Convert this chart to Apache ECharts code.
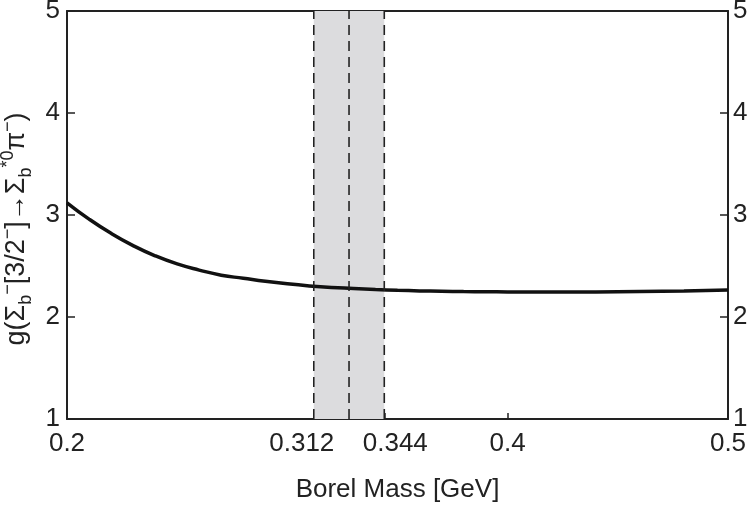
<!DOCTYPE html>
<html>
<head>
<meta charset="utf-8">
<script src="https://cdn.jsdelivr.net/npm/echarts@6/dist/echarts.min.js"></script>
<style>
html,body{margin:0;padding:0;background:#fff;}
#main{width:750px;height:505px;}
</style>
</head>
<body>
<div id="main"></div>
<script>
// Data
const borelMass = [0.20, 0.21, 0.22, 0.23, 0.24, 0.25, 0.26, 0.27, 0.28, 0.29, 0.30, 0.31, 0.32, 0.33, 0.34, 0.35, 0.36, 0.37, 0.38, 0.39, 0.40, 0.42, 0.44, 0.46, 0.48, 0.50];
const couplingG = [3.12, 2.96, 2.82, 2.70, 2.60, 2.52, 2.46, 2.41, 2.38, 2.35, 2.325, 2.305, 2.29, 2.28, 2.27, 2.262, 2.256, 2.252, 2.249, 2.247, 2.246, 2.245, 2.246, 2.250, 2.256, 2.265];
const xTickValues = [0.2, 0.312, 0.344, 0.4, 0.5];
const bandRange = [0.312, 0.344];
const bandLines = [0.312, 0.328, 0.344];
const yMin = 1, yMax = 5, yStep = 1;

const FONT = '"Liberation Sans", Arial, Helvetica, sans-serif';
const TXT = '#222';

const chart = echarts.init(document.getElementById('main'), null, {renderer: 'canvas'});

function xFmt(v) {
  if (Math.abs(v - 0.312) < 1e-9) return '{l|0.312}';
  if (Math.abs(v - 0.344) < 1e-9) return '{r|0.344}';
  return '{n|' + (Math.round(v * 1000) / 1000) + '}';
}

const labelRich = {
  n: {fontSize: 26, fontFamily: FONT, color: TXT},
  l: {fontSize: 26, fontFamily: FONT, color: TXT, padding: [0, 24, 0, 0]},
  r: {fontSize: 26, fontFamily: FONT, color: TXT, padding: [0, 0, 0, 22]}
};

const series = [];
// shaded band
series.push({
  type: 'line',
  data: [[bandRange[0], yMax], [bandRange[1], yMax]],
  showSymbol: false, symbol: 'none', silent: true,
  lineStyle: {width: 0},
  areaStyle: {color: '#dcdcde', opacity: 1, origin: 'start'},
  z: 1
});
// main curve
series.push({
  type: 'line',
  data: borelMass.map((x, i) => [x, couplingG[i]]),
  smooth: true,
  showSymbol: false, symbol: 'none',
  lineStyle: {color: '#111', width: 3.5},
  z: 3
});
// dashed lines
bandLines.forEach(v => {
  series.push({
    type: 'line',
    data: [[v, yMin], [v, yMax]],
    showSymbol: false, symbol: 'none', silent: true,
    lineStyle: {color: '#222', width: 1.6, type: [10, 6]},
    z: 4
  });
});

const option = {
  animation: false,
  backgroundColor: '#fff',
  grid: {left: 67, right: 22, top: 11, bottom: 86, containLabel: false, outerBoundsMode: 'none'},
  xAxis: [{
    type: 'value',
    min: 0.2, max: 0.5,
    position: 'bottom',
    name: 'Borel Mass [GeV]',
    nameLocation: 'middle',
    nameGap: 58,
    nameTextStyle: {fontSize: 26, fontFamily: FONT, color: TXT},
    axisLine: {show: true, onZero: false, lineStyle: {color: '#222', width: 2}},
    axisTick: {show: true, inside: true, length: 6, customValues: xTickValues, lineStyle: {color: '#222', width: 1.5}},
    axisLabel: {show: true, margin: 12, customValues: xTickValues, formatter: xFmt, rich: labelRich},
    splitLine: {show: false}
  }, {
    type: 'value',
    min: 0.2, max: 0.5,
    position: 'top',
    axisLine: {show: true, onZero: false, lineStyle: {color: '#222', width: 2}},
    axisTick: {show: false},
    axisLabel: {show: false},
    splitLine: {show: false}
  }],
  yAxis: [{
    type: 'value',
    min: yMin, max: yMax, interval: yStep,
    position: 'left',
    name: 'g(Σ{sub|b}{sup|−}[3/2{sup|−}]→Σ{sub|b}{sup|*0}π{sup|−})',
    nameLocation: 'middle',
    nameRotate: 90,
    nameGap: 22,
    nameTextStyle: {
      fontSize: 27, fontFamily: FONT, color: TXT, lineHeight: 36,
      padding: [0, 28, 0, 0],
      rich: {
        sub: {fontSize: 18, fontFamily: FONT, color: TXT, lineHeight: 36, verticalAlign: 'bottom'},
        sup: {fontSize: 18, fontFamily: FONT, color: TXT, lineHeight: 36, verticalAlign: 'top'}
      }
    },
    axisLine: {show: true, onZero: false, lineStyle: {color: '#222', width: 2}},
    axisTick: {show: true, inside: true, length: 8, lineStyle: {color: '#222', width: 1.5}},
    axisLabel: {show: true, margin: 7, fontSize: 26, fontFamily: FONT, color: TXT},
    splitLine: {show: false}
  }, {
    type: 'value',
    min: yMin, max: yMax, interval: yStep,
    position: 'right',
    axisLine: {show: true, onZero: false, lineStyle: {color: '#222', width: 2}},
    axisTick: {show: true, inside: true, length: 8, lineStyle: {color: '#222', width: 1.5}},
    axisLabel: {show: true, margin: 5, fontSize: 26, fontFamily: FONT, color: TXT},
    splitLine: {show: false}
  }],
  series: series
};
chart.setOption(option);
</script>
</body>
</html>
